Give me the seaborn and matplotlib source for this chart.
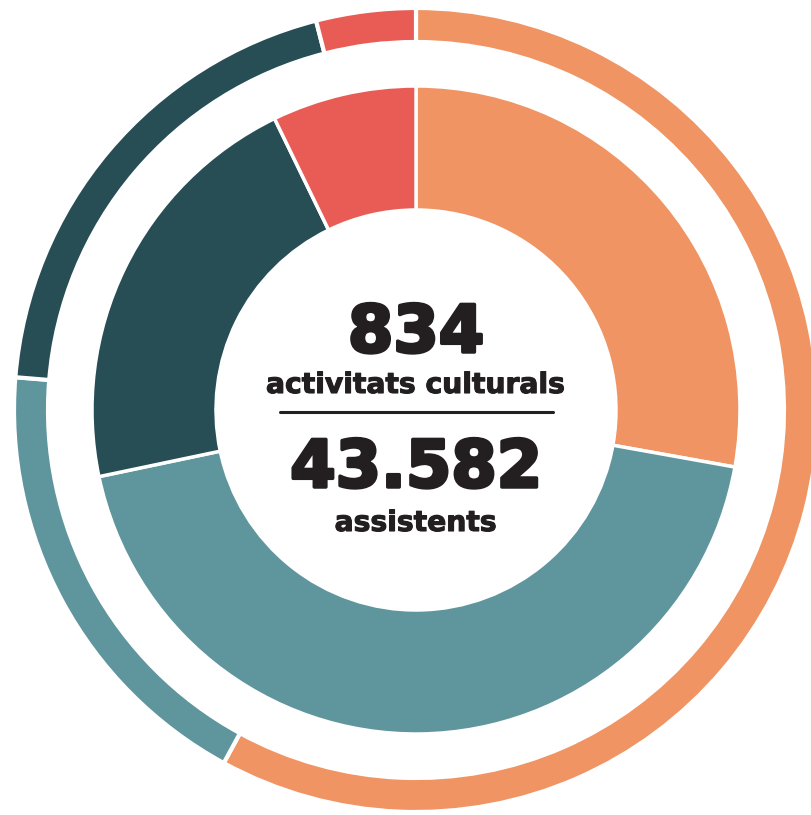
import matplotlib
matplotlib.use("Agg")
import matplotlib.pyplot as plt
import matplotlib.patheffects as pe
import seaborn as sns

# DATA
categories = ["A", "B", "C", "D"]
activitats = [232, 366, 176, 60]           # inner ring, 834 activitats
assistents = [25250, 8003, 8586, 1743]     # outer ring, 43.582 assistents
colors = ["#EF9462", "#5F969E", "#274D55", "#E85C55"]

total_act = "834"
total_ass = "43.582"
label_act = "activitats culturals"
label_ass = "assistents"

sns.set_theme(style="white")
plt.rcParams['font.family'] = ['DejaVu Sans']

fig = plt.figure(figsize=(8.11, 8.15), dpi=100)
ax = fig.add_axes([0, 0, 1, 1])

# OUTER RING
ax.pie(assistents, radius=402, colors=colors, startangle=90, counterclock=False,
       wedgeprops=dict(width=34, edgecolor="white", linewidth=3))
# INNER RING
ax.pie(activitats, radius=324, colors=colors, startangle=90, counterclock=False,
       wedgeprops=dict(width=124, edgecolor="white", linewidth=2.5))

ax.set_xlim(-416, 395)
ax.set_ylim(-405, 410)
ax.set_aspect("equal")
ax.axis("off")

# CENTRE TEXT (stroke to make it look extra heavy)
ink = "#231F20"
txt = dict(ha="center", va="baseline", fontweight="heavy", color=ink)
big = [pe.withStroke(linewidth=2.5, foreground=ink)]
small = [pe.withStroke(linewidth=0.8, foreground=ink)]
ax.text(0, 58, total_act, fontsize=47, path_effects=big, **txt)
ax.text(0, 17, label_act, fontsize=20.3, path_effects=small, **txt)
ax.plot([-136, 137], [-2, -2], color=ink, lw=2.2)
ax.text(0, -77, total_ass, fontsize=47, path_effects=big, **txt)
ax.text(0, -121, label_ass, fontsize=20.3, path_effects=small, **txt)

plt.savefig("out.png", dpi=100)
